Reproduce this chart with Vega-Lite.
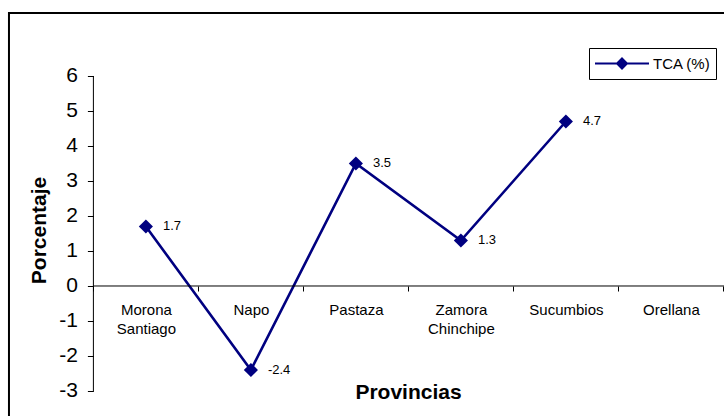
{
  "$schema": "https://vega.github.io/schema/vega-lite/v6.json",
  "width": 724,
  "height": 416,
  "autosize": {"type": "none"},
  "padding": 0,
  "background": "white",
  "config": {
    "view": {"stroke": null},
    "font": "Liberation Sans",
    "text": {"font": "Liberation Sans"},
    "locale": {"number": {"decimal": ".", "thousands": ",", "grouping": [3], "currency": ["$", ""], "minus": "-"}}
  },
  "data": {
    "values": [
      {"provincia": "Morona Santiago", "tca": 1.7, "serie": "TCA (%)"},
      {"provincia": "Napo", "tca": -2.4, "serie": "TCA (%)"},
      {"provincia": "Pastaza", "tca": 3.5, "serie": "TCA (%)"},
      {"provincia": "Zamora Chinchipe", "tca": 1.3, "serie": "TCA (%)"},
      {"provincia": "Sucumbios", "tca": 4.7, "serie": "TCA (%)"},
      {"provincia": "Orellana", "tca": null, "serie": "TCA (%)"}
    ]
  },
  "layer": [
    {
      "mark": {"type": "line", "color": "#000080", "strokeWidth": 2.6},
      "encoding": {
        "x": {
          "field": "provincia",
          "type": "nominal",
          "sort": null,
          "scale": {
            "domain": ["Morona Santiago", "Napo", "Pastaza", "Zamora Chinchipe", "Sucumbios", "Orellana"],
            "paddingInner": 0,
            "paddingOuter": 0.4476,
            "align": 0.9936
          },
          "axis": {
            "orient": "bottom",
            "offset": -130,
            "domain": false,
            "grid": false,
            "ticks": true,
            "tickBand": "extent",
            "tickSize": 5,
            "tickColor": "black",
            "labelAngle": 0,
            "labelFont": "Liberation Sans",
            "labelFontSize": 15,
            "labelColor": "black",
            "labelPadding": 11,
            "labelLineHeight": 19,
            "labelExpr": "split(datum.label, ' ')",
            "title": "Provincias",
            "titleFont": "Liberation Sans",
            "titleFontSize": 21,
            "titleFontWeight": "bold",
            "titleColor": "black",
            "titleX": 408,
            "titleY": 112,
            "titleAlign": "center",
            "titleBaseline": "alphabetic"
          }
        },
        "y": {
          "field": "tca",
          "type": "quantitative",
          "scale": {"domain": [-3.7143, 8.1714], "nice": false, "zero": false},
          "axis": {
            "orient": "left",
            "offset": -93.4,
            "values": [-3, -2, -1, 0, 1, 2, 3, 4, 5, 6],
            "format": "d",
            "domain": false,
            "grid": false,
            "tickSize": 6,
            "tickColor": "black",
            "labelFont": "Liberation Sans",
            "labelFontSize": 21,
            "labelColor": "black",
            "labelPadding": 10,
            "title": "Porcentaje",
            "titleFont": "Liberation Sans",
            "titleFontSize": 21,
            "titleFontWeight": "bold",
            "titleColor": "black",
            "titleAngle": -90,
            "titleX": -47.7,
            "titleY": 230,
            "titleAlign": "center",
            "titleBaseline": "alphabetic"
          }
        },
        "color": {
          "field": "serie",
          "type": "nominal",
          "scale": {"range": ["#000080"]},
          "legend": {
            "orient": "none",
            "legendX": 589,
            "legendY": 48,
            "title": null,
            "strokeColor": "black",
            "padding": 5,
            "symbolType": "M-1,0L1,0M0,-0.185L0.185,0L0,0.185L-0.185,0Z",
            "symbolSize": 2916,
            "symbolStrokeWidth": 2,
            "symbolFillColor": "#000080",
            "symbolStrokeColor": "#000080",
            "clipHeight": 21,
            "labelOffset": 3,
            "labelFont": "Liberation Sans",
            "labelFontSize": 15,
            "labelColor": "black",
            "encode": {"symbols": {"update": {"fill": {"value": "#000080"}, "stroke": {"value": "#000080"}}}}
          }
        }
      }
    },
    {
      "mark": {"type": "point", "shape": "diamond", "filled": true, "size": 200, "color": "#000080", "opacity": 1},
      "encoding": {
        "x": {"field": "provincia", "type": "nominal", "sort": null},
        "y": {"field": "tca", "type": "quantitative"}
      }
    },
    {
      "transform": [{"filter": "datum.tca != null"}],
      "mark": {"type": "text", "align": "left", "baseline": "middle", "dx": 17, "fontSize": 13, "font": "Liberation Sans", "color": "black"},
      "encoding": {
        "x": {"field": "provincia", "type": "nominal", "sort": null},
        "y": {"field": "tca", "type": "quantitative"},
        "text": {"field": "tca", "type": "quantitative", "format": ".1f"}
      }
    },
    {
      "data": {"values": [{"y0": 0}]},
      "mark": {"type": "rule", "color": "black", "strokeWidth": 1},
      "encoding": {
        "x": {"datum": "Morona Santiago", "type": "nominal", "bandPosition": 0},
        "x2": {"datum": "Orellana", "bandPosition": 1.01},
        "y": {"field": "y0", "type": "quantitative"}
      }
    },
    {
      "data": {"values": [{"ymin": -3, "ymax": 6}]},
      "mark": {"type": "rule", "color": "black", "strokeWidth": 1},
      "encoding": {
        "x": {"datum": "Morona Santiago", "type": "nominal", "bandPosition": 0},
        "y": {"field": "ymin", "type": "quantitative"},
        "y2": {"field": "ymax"}
      }
    },
    {
      "data": {"values": [{"ytop": 7.8}]},
      "mark": {"type": "rule", "color": "black", "strokeWidth": 2},
      "encoding": {
        "x": {"datum": "Morona Santiago", "type": "nominal", "bandPosition": -0.804},
        "x2": {"datum": "Orellana", "bandPosition": 1.2},
        "y": {"field": "ytop", "type": "quantitative"}
      }
    },
    {
      "data": {"values": [{"ytop": 7.83, "ybot": -3.7143}]},
      "mark": {"type": "rule", "color": "black", "strokeWidth": 2},
      "encoding": {
        "x": {"datum": "Morona Santiago", "type": "nominal", "bandPosition": -0.804},
        "y": {"field": "ytop", "type": "quantitative"},
        "y2": {"field": "ybot"}
      }
    }
  ]
}
